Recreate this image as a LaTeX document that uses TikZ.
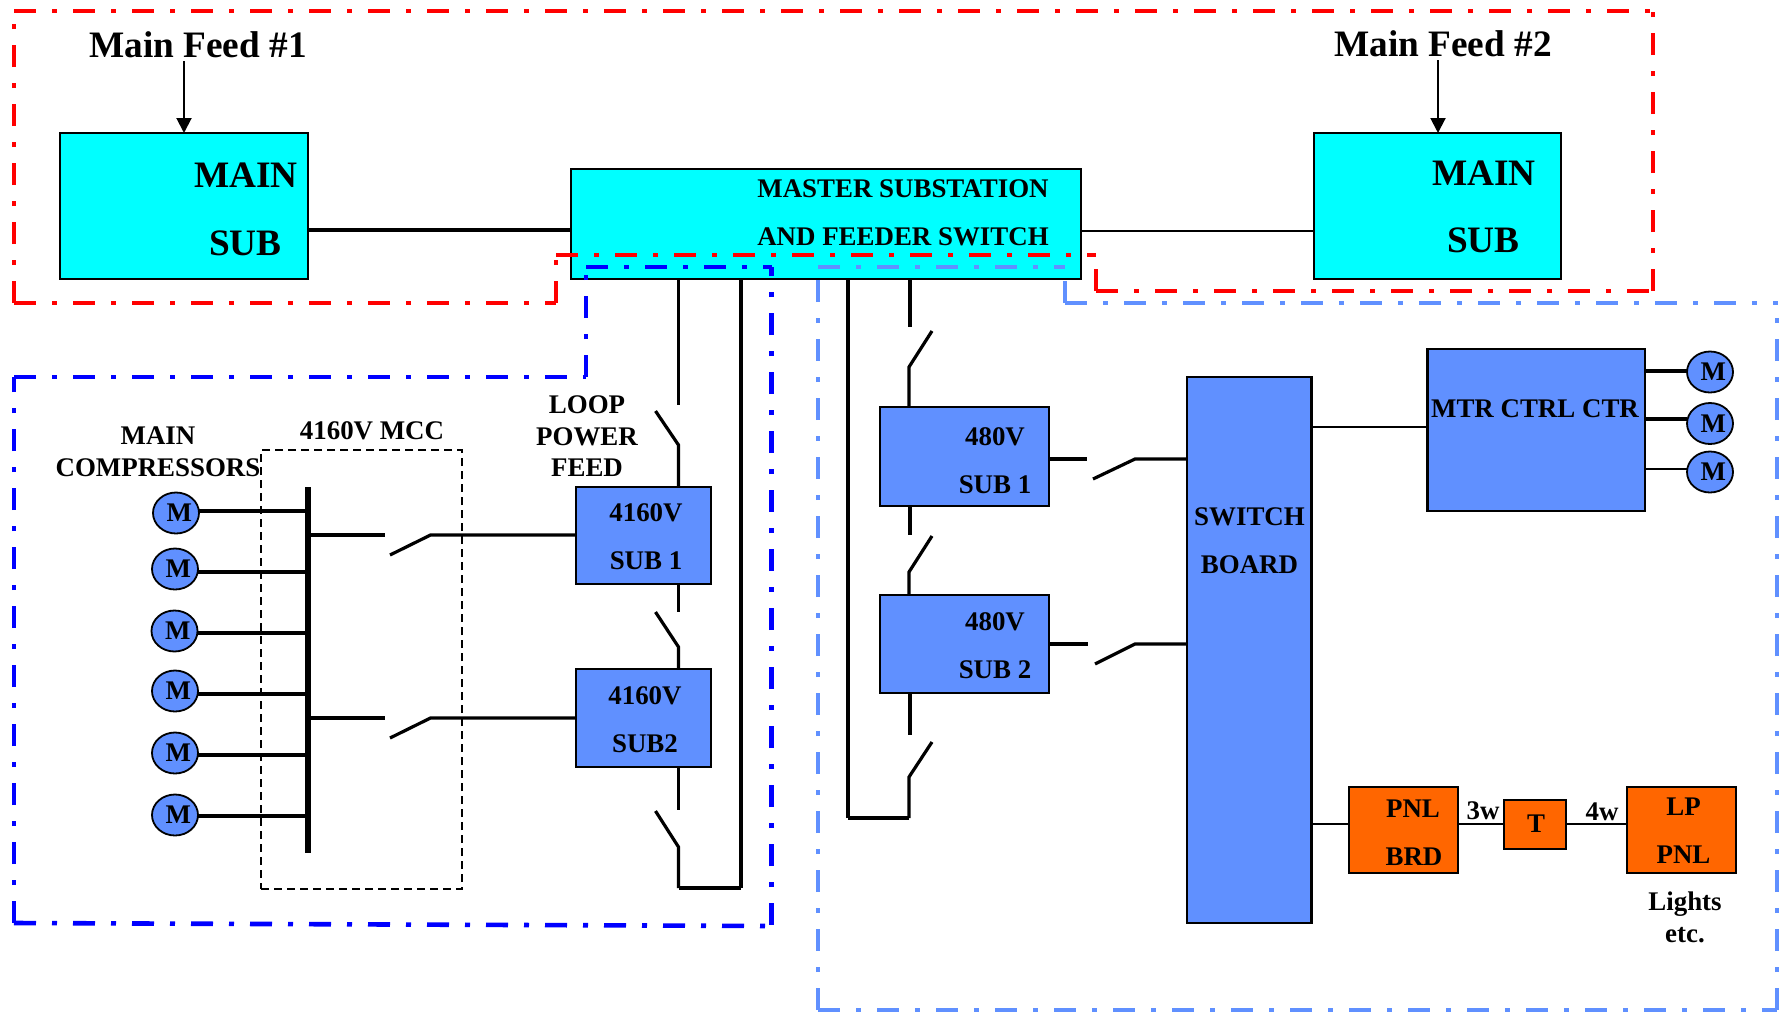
\documentclass[tikz,border=0pt]{standalone}
\usepackage{fontspec}
\setmainfont{Liberation Serif}
\usetikzlibrary{arrows.meta,shapes.geometric}
\definecolor{cyanbox}{HTML}{00FFFF}
\definecolor{bluebox}{HTML}{6090FF}
\definecolor{orangebox}{HTML}{FF6600}
\definecolor{zonered}{HTML}{FF0000}
\definecolor{zoneblue}{HTML}{0000FF}
\definecolor{zonelight}{HTML}{6090FF}
\tikzset{
  boxbase/.style={draw=black,line width=2.3pt,inner sep=0pt,outer sep=0pt},
  cyanbx/.style={boxbase,fill=cyanbox},
  bluebx/.style={boxbase,fill=bluebox},
  orangebx/.style={boxbase,fill=orangebox},
  lbl/.style={inner sep=0pt,text height=17.8pt,text depth=0pt,align=center,font=\fontsize{26.9}{30}\selectfont\bfseries},
  biglbl/.style={inner sep=0pt,text height=24.7pt,text depth=0pt,align=center,font=\fontsize{37.3}{42}\selectfont\bfseries},
  motor/.style={ellipse,draw=black,line width=1.8pt,fill=bluebox,inner sep=0pt,outer sep=0pt,minimum width=46pt,minimum height=41pt,lbl},
  wire/.style={draw=black,line width=3.2pt,line cap=butt,line join=miter},
  thinwire/.style={draw=black,line width=2pt},
  thickwire/.style={draw=black,line width=4.5pt},
  feedarrow/.style={draw=black,line width=2pt,-{Triangle[length=15pt,width=15pt]}},
  mccbox/.style={draw=black,line width=1.5pt,dash pattern=on 8pt off 5pt,fill=none,inner sep=0pt,outer sep=0pt},
  zone/.style={line width=4.6pt,line cap=butt,dash pattern=on 22pt off 16pt on 5pt off 16pt},
  zonetop/.style={zone,draw=zonered},
  zonemid/.style={zone,draw=zoneblue},
  zonelow/.style={zone,draw=zonelight},
}
\newcommand{\boxnode}[6]{%
  \pgfmathsetmacro\bxw{#4-#2}\pgfmathsetmacro\bxh{#5-#3}%
  \node[#6,minimum width=\bxw pt,minimum height=\bxh pt] (#1) at ({(#2+#4)/2},{(#3+#5)/2}) {};}
\newcommand{\motortext}{\kern6.5pt M}
\begin{document}
\begin{tikzpicture}[x=1pt,y=-1pt]
\useasboundingbox (0,0) rectangle (1785,1012);

% boxes
\boxnode{mainA}{60}{133}{308}{279}{cyanbx}
\boxnode{mainB}{1314}{133}{1561}{279}{cyanbx}
\boxnode{master}{571}{169}{1081}{279}{cyanbx}
\boxnode{hvA}{576}{487}{711}{584}{bluebx}
\boxnode{hvB}{576}{669}{711}{767}{bluebx}
\boxnode{lvA}{880}{407}{1049}{506}{bluebx}
\boxnode{lvB}{880}{595}{1049}{693}{bluebx}
\boxnode{swbd}{1187}{377}{1311.5}{923}{bluebx}
\boxnode{mtr}{1427.5}{349}{1645}{511}{bluebx}
\boxnode{pnl}{1349}{787}{1458}{873}{orangebx}
\boxnode{tx}{1504}{800}{1566}{849}{orangebx}
\boxnode{lp}{1627}{787}{1736}{873}{orangebx}
\boxnode{mcc}{261}{450}{462}{889}{mccbox}
\node[fill=black,inner sep=0pt,outer sep=0pt,minimum width=5.6pt,minimum height=366pt] (bus) at (308,670) {};

% motors
\node[motor] (m1) at (176,513) {\motortext};
\node[motor] (m2) at (175,569) {\motortext};
\node[motor] (m3) at (174.5,631) {\motortext};
\node[motor] (m4) at (175,691) {\motortext};
\node[motor] (m5) at (175,753) {\motortext};
\node[motor] (m6) at (175,815) {\motortext};
\node[motor] (r1) at (1710,372) {\motortext};
\node[motor] (r2) at (1710,423.5) {\motortext};
\node[motor] (r3) at (1710,472) {\motortext};

% labels
\node[biglbl] (feedA) at (198,45) {Main Feed \#1};
\node[biglbl] (feedB) at (1443,44) {Main Feed \#2};
\node[biglbl] at (246,175) {MAIN};
\node[biglbl] at (245.5,243) {SUB};
\node[biglbl] at (1484,173) {MAIN};
\node[biglbl] at (1483.5,240) {SUB};
\node[lbl] at (903,189) {MASTER SUBSTATION};
\node[lbl] at (903,237) {AND FEEDER SWITCH};
\node[lbl] at (646,513) {4160V};
\node[lbl] at (646,561) {SUB 1};
\node[lbl] at (645,696) {4160V};
\node[lbl] at (645,744) {SUB2};
\node[lbl] at (995,437) {480V};
\node[lbl] at (995,485) {SUB 1};
\node[lbl] at (995,622) {480V};
\node[lbl] at (995,670) {SUB 2};
\node[lbl] at (1249.5,517) {SWITCH};
\node[lbl] at (1249.5,565) {BOARD};
\node[lbl] at (1535,409) {MTR CTRL CTR};
\node[lbl] at (1413,809) {PNL};
\node[lbl] at (1414,857) {BRD};
\node[lbl] at (1536,824) {T};
\node[lbl] at (1683.5,807) {LP};
\node[lbl] at (1683.5,855) {PNL};
\node[lbl] at (1685,902) {Lights};
\node[lbl] at (1685,934) {etc.};
\node[lbl] at (1483,811) {3w};
\node[lbl] at (1602,812) {4w};
\node[lbl] at (372,431) {4160V MCC};
\node[lbl] at (158,436) {MAIN};
\node[lbl] at (158,468) {COMPRESSORS};
\node[lbl] at (587,405) {LOOP};
\node[lbl] at (587,437) {POWER};
\node[lbl] at (587,468) {FEED};

% feeds
\draw[feedarrow] (mainA.north |- 0,61) -- (mainA.north);
\draw[feedarrow] (1438,60) coordinate (fb) -- (fb |- mainB.north);

% main bus ties
\draw[wire] (mainA.east |- 0,230) -- (master.west |- 0,230);
\draw[thinwire] (master.east |- 0,230.5) -- (mainB.west |- 0,230.5);

% loop feed, left
\coordinate (la) at (678.5,405);
\coordinate (lab) at (655.5,411);
\coordinate (lah) at (678.5,445);
\coordinate (lb) at (678.5,612);
\coordinate (lbb) at (655.5,612);
\coordinate (lbh) at (678.5,647);
\coordinate (lc) at (678.5,810);
\coordinate (lcb) at (655.5,811);
\coordinate (lch) at (678.5,847);
\coordinate (ld) at (678.5,888);
\coordinate (le) at (741,888);
\draw[wire] (master.south -| la) -- (la);
\draw[wire] (lab) -- (lah) -- (hvA.north -| lah);
\draw[wire] (hvA.south -| lb) -- (lb);
\draw[wire] (lbb) -- (lbh) -- (hvB.north -| lbh);
\draw[wire] (hvB.south -| lc) -- (lc);
\draw[wire] (lcb) -- (lch) -- (ld);
\draw[thickwire] (ld) -- (le);
\draw[wire] (le) -- (master.south -| le);

% loop feed, right
\coordinate (ra) at (910,327);
\coordinate (rab) at (932,331);
\coordinate (rah) at (909,367);
\coordinate (rb) at (910,535);
\coordinate (rbb) at (932,536);
\coordinate (rbh) at (909,572);
\coordinate (rc) at (910,735);
\coordinate (rcb) at (932,742);
\coordinate (rch) at (909,777);
\coordinate (rd) at (909,818);
\coordinate (re) at (848,818);
\draw[wire] (master.south -| ra) -- (ra);
\draw[wire] (rab) -- (rah) -- (lvA.north -| rah);
\draw[wire] (lvA.south -| rb) -- (rb);
\draw[wire] (rbb) -- (rbh) -- (lvB.north -| rbh);
\draw[wire] (lvB.south -| rc) -- (rc);
\draw[wire] (rcb) -- (rch) -- (rd);
\draw[thickwire] (rd) -- (re);
\draw[wire] (re) -- (master.south -| re);

% 480V switches to switch board
\coordinate (sa) at (1087,459);
\coordinate (sab) at (1093,479);
\coordinate (sah) at (1135,459);
\coordinate (sb) at (1088,644);
\coordinate (sbb) at (1095,664);
\coordinate (sbh) at (1135,644);
\draw[wire] (lvA.east |- sa) -- (sa);
\draw[wire] (sab) -- (sah) -- (swbd.west |- sah);
\draw[wire] (lvB.east |- sb) -- (sb);
\draw[wire] (sbb) -- (sbh) -- (swbd.west |- sbh);

% 4160V MCC switches
\coordinate (ca) at (385,535);
\coordinate (cab) at (390,555);
\coordinate (cah) at (430.5,535);
\coordinate (cb) at (385,718);
\coordinate (cbb) at (390,738);
\coordinate (cbh) at (430.5,718);
\draw[wire] (bus.east |- ca) -- (ca);
\draw[wire] (cab) -- (cah) -- (hvA.west |- cah);
\draw[wire] (bus.east |- cb) -- (cb);
\draw[wire] (cbb) -- (cbh) -- (hvB.west |- cbh);

% compressors
\draw[wire] (m1.east |- 0,511) -- (bus.west |- 0,511);
\draw[wire] (m2.east |- 0,572) -- (bus.west |- 0,572);
\draw[wire] (m3.east |- 0,633) -- (bus.west |- 0,633);
\draw[wire] (m4.east |- 0,694) -- (bus.west |- 0,694);
\draw[wire] (m5.east |- 0,755) -- (bus.west |- 0,755);
\draw[wire] (m6.east |- 0,816) -- (bus.west |- 0,816);

% motor control centre
\draw[thinwire] (swbd.east |- 0,427) -- (mtr.west |- 0,427);
\draw[wire] (mtr.east |- 0,371) -- (r1.west |- 0,371);
\draw[wire] (mtr.east |- 0,419) -- (r2.west |- 0,419);
\draw[thinwire] (mtr.east |- 0,469) -- (r3.west |- 0,469);

% lighting
\draw[thinwire] (swbd.east |- 0,824) -- (pnl.west |- 0,824);
\draw[thinwire] (pnl.east |- 0,824) -- (tx.west |- 0,824);
\draw[thinwire] (tx.east |- 0,824) -- (lp.west |- 0,824);

% light blue zone
\draw[zonelow] (818,1010) -- (818,267);
\draw[zonelow] (818,267) -- (1065,267);
\draw[zonelow] (1065,303) -- (1065,267);
\draw[zonelow] (1065,303) -- (1778,303);
\draw[zonelow] (1777,1010) -- (1777,303);
\draw[zonelow] (818,1010) -- (1777,1010);

% blue zone
\draw[zonemid] (14,923) -- (14,377);
\draw[zonemid] (14,377) -- (586,377);
\draw[zonemid] (586,377) -- (586,267);
\draw[zonemid] (586,267) -- (771.5,267);
\draw[zonemid] (771.5,925) -- (771.5,267);
\draw[zonemid] (14,923) -- (771.5,926);

% red zone
\draw[zonetop] (14,303) -- (14,11);
\draw[zonetop] (14,11) -- (1653,11);
\draw[zonetop] (1653,291) -- (1653,11);
\draw[zonetop] (1096,291) -- (1653,291);
\draw[zonetop] (1096,291) -- (1096,255);
\draw[zonetop] (556,255) -- (1096,255);
\draw[zonetop] (556,303) -- (556,255);
\draw[zonetop] (14,303) -- (556,303);
\end{tikzpicture}
\end{document}
